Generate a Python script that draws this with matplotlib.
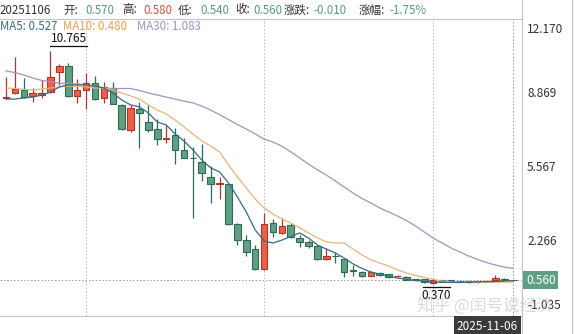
import matplotlib
matplotlib.use("Agg")
import matplotlib.pyplot as plt
from matplotlib.lines import Line2D
import numpy as np

plt.rcParams["font.family"] = ["Noto Sans CJK SC", "DejaVu Sans"]
plt.rcParams["axes.unicode_minus"] = False

# ---------------- data ----------------
OPEN = [8.64, 8.87, 9.01, 8.75, 8.79, 8.91, 9.83, 10.08, 8.76, 9.01,
        9.31, 8.64, 9.10, 8.35, 7.24, 8.17, 7.60, 7.28, 6.82, 7.01,
        6.35, 6.00, 5.83, 5.16, 4.83, 4.82, 3.06, 2.34, 1.94, 1.04,
        3.11, 2.64, 3.01, 2.42, 2.24, 2.08, 1.50, 1.64, 1.49, 0.99,
        0.94, 0.76, 0.89, 0.82, 0.73, 0.71, 0.58, 0.60, 0.45, 0.56,
        0.54, 0.52, 0.51, 0.46, 0.51, 0.55, 0.62, 0.57]
HIGH = [9.59, 10.49, 9.55, 9.10, 9.46, 10.765, 10.17, 10.20, 9.50, 9.77,
        9.64, 9.38, 9.38, 8.40, 8.35, 8.49, 8.35, 7.71, 7.46, 7.32,
        6.87, 6.49, 6.61, 5.63, 5.15, 4.85, 3.10, 2.57, 2.12, 3.53,
        3.28, 3.32, 3.10, 2.57, 2.34, 2.12, 1.99, 1.82, 1.52, 1.23,
        0.98, 0.98, 0.92, 0.85, 0.80, 0.74, 0.60, 0.62, 0.60, 0.58,
        0.56, 0.54, 0.52, 0.54, 0.54, 0.77, 0.64, 0.58]
LOW = [8.60, 8.85, 8.66, 8.49, 8.64, 8.87, 9.24, 8.70, 8.44, 8.17,
       8.57, 8.44, 8.39, 7.24, 7.16, 6.43, 7.16, 6.57, 6.64, 5.72,
       5.98, 3.32, 4.98, 4.00, 4.17, 3.01, 2.12, 1.63, 1.02, 1.02,
       2.49, 2.61, 2.42, 2.05, 1.98, 1.46, 1.45, 1.31, 0.71, 0.74,
       0.72, 0.74, 0.76, 0.67, 0.70, 0.55, 0.55, 0.44, 0.37, 0.52,
       0.51, 0.48, 0.45, 0.44, 0.49, 0.53, 0.55, 0.54]
CLOSE = [8.68, 9.06, 8.72, 8.87, 8.89, 9.60, 10.08, 8.75, 9.01, 9.31,
         8.60, 9.16, 8.39, 7.27, 8.23, 7.99, 7.24, 6.84, 6.86, 6.35,
         5.99, 5.97, 5.34, 4.82, 4.86, 3.06, 2.34, 1.82, 1.04, 3.04,
         2.69, 2.97, 2.46, 2.24, 2.08, 1.49, 1.63, 1.62, 0.90, 0.98,
         0.76, 0.94, 0.79, 0.69, 0.75, 0.57, 0.57, 0.46, 0.57, 0.54,
         0.53, 0.49, 0.47, 0.52, 0.52, 0.67, 0.57, 0.56]

MA5 = [8.61, 8.61, 8.66, 8.70, 8.79, 8.92, 9.15, 9.24, 9.24, 9.24,
       9.19, 9.10, 8.88, 8.57, 8.35, 8.26, 7.99, 7.59, 7.46, 7.06,
       6.75, 6.35, 5.90, 5.55, 5.37, 4.88, 4.26, 3.59, 2.79, 2.30,
       2.21, 2.34, 2.50, 2.66, 2.43, 2.12, 1.94, 1.77, 1.54, 1.28,
       1.08, 0.92, 0.83, 0.74, 0.65, 0.60, 0.54, 0.51, 0.48, 0.46,
       0.46, 0.46, 0.46, 0.48, 0.49, 0.50, 0.52, 0.53]
MA10 = [9.10, 9.08, 9.04, 9.01, 9.06, 9.10, 9.15, 9.19, 9.17, 9.15,
        9.10, 9.10, 9.01, 8.88, 8.75, 8.61, 8.35, 8.12, 7.95, 7.68,
        7.37, 7.06, 6.75, 6.52, 6.26, 5.68, 5.15, 4.66, 4.17, 3.77,
        3.50, 3.28, 3.10, 2.88, 2.66, 2.43, 2.26, 2.21, 2.21, 1.94,
        1.68, 1.46, 1.32, 1.19, 1.01, 0.88, 0.77, 0.68, 0.59, 0.52,
        0.48, 0.46, 0.46, 0.46, 0.46, 0.47, 0.47, 0.48]
MA30 = [9.86, 9.79, 9.68, 9.55, 9.44, 9.37, 9.32, 9.30, 9.28, 9.24,
        9.17, 9.10, 9.08, 9.08, 9.08, 8.99, 8.88, 8.79, 8.70, 8.61,
        8.52, 8.44, 8.30, 8.12, 7.92, 7.70, 7.48, 7.28, 7.06, 6.83,
        6.70, 6.52, 6.26, 5.99, 5.72, 5.46, 5.23, 4.97, 4.70, 4.43,
        4.19, 3.99, 3.77, 3.59, 3.41, 3.21, 2.97, 2.70, 2.43, 2.21,
        1.99, 1.81, 1.63, 1.48, 1.34, 1.23, 1.14, 1.08]

Y_TICKS = [12.170, 8.869, 5.567, 2.266, -1.035]
MONTH_SEP = [9, 29, 48]          # dotted vertical separators (candle index)
LAST_DATE = "2025-11-06"
LAST_PRICE = 0.560

# ---------------- colours ----------------
RED_FACE, RED_EDGE = "#ec5f4a", "#b0352a"
GRN_FACE, GRN_EDGE = "#5f9f83", "#2f6a53"
C_MA5, C_MA10, C_MA30 = "#3a6a86", "#e9b47c", "#a591c4"
TXT = "#333333"
TXT_G, TXT_R = "#5c9a80", "#d65545"

W, H = 575, 334
def fx(px): return px / W
def fy(py): return 1 - py / H

fig = plt.figure(figsize=(W / 100, H / 100), dpi=100)
ax = fig.add_axes([0, fy(316), fx(522), (316 - 19) / H])

o, h, l, c = map(np.array, (OPEN, HIGH, LOW, CLOSE))
x = np.arange(len(o))
up = c >= o

# wicks
ax.vlines(x[up], l[up], h[up], color=RED_EDGE, lw=0.9, zorder=2)
ax.vlines(x[~up], l[~up], h[~up], color=GRN_EDGE, lw=0.9, zorder=2)
# bodies
bottom = np.minimum(o, c)
height = np.maximum(np.abs(c - o), 0.025)
ax.bar(x[up], height[up], bottom=bottom[up], width=0.74,
       color=RED_FACE, edgecolor=RED_EDGE, linewidth=0.8, zorder=3)
ax.bar(x[~up], height[~up], bottom=bottom[~up], width=0.74,
       color=GRN_FACE, edgecolor=GRN_EDGE, linewidth=0.8, zorder=3)

# moving averages
ax.plot(x, MA30, color=C_MA30, lw=0.9, zorder=4)
ax.plot(x, MA10, color=C_MA10, lw=0.9, zorder=4)
ax.plot(x, MA5, color=C_MA5, lw=0.9, zorder=4)

# separators / crosshair
for s in MONTH_SEP:
    ax.axvline(s, color="#b8b8b8", lw=0.7, ls=(0, (1.5, 2)), zorder=1)
ax.axvline(x[-1], color="#9a9a9a", lw=0.7, ls=(0, (1.5, 2)), zorder=1)
ax.axhline(LAST_PRICE, color="#9a9a9a", lw=0.7, ls=(0, (1.5, 2)), zorder=1)

ax.set_xlim(-0.674, 57.98)
ax.set_ylim(Y_TICKS[-1], Y_TICKS[0])
ax.set_xticks([])
ax.set_yticks([])
ax.spines["left"].set_visible(False)
for side in ("top", "right", "bottom"):
    ax.spines[side].set_color("#c4c4c4")
    ax.spines[side].set_linewidth(0.8)

# high / low marks
hi = int(np.argmax(h))
ax.plot([hi, hi + 4.1], [h[hi] + 0.19, h[hi] + 0.19], color="#111111", lw=0.9, zorder=5)
ax.text(hi + 2.05, h[hi] + 0.25, f"{h[hi]:.3f}", ha="center", va="bottom",
        fontsize=8.5, color="#111111", zorder=5)
lo = int(np.argmin(l))
ax.plot([lo - 1.2, lo + 1.9], [l[lo] - 0.13, l[lo] - 0.13], color="#111111", lw=0.9, zorder=5)
ax.text(lo + 0.35, l[lo] - 0.2, f"{l[lo]:.3f}", ha="center", va="top",
        fontsize=8.5, color="#111111", zorder=5)

# right axis labels
tr = ax.get_yaxis_transform()
for i, v in enumerate(Y_TICKS):
    va = "top" if i == 0 else ("bottom" if i == len(Y_TICKS) - 1 else "center")
    yy = v - 0.2 if i == 0 else (v + 0.2 if i == len(Y_TICKS) - 1 else v)
    ax.text(1.0 + 5 / 522, yy, f"{v:.3f}", transform=tr, ha="left", va=va,
            fontsize=8.5, color=TXT, clip_on=False)
ax.text(1.0 + 4 / 522, LAST_PRICE, f"{LAST_PRICE:.3f}", transform=tr, ha="left",
        va="center", fontsize=8.5, color="white", clip_on=False, zorder=6,
        bbox=dict(boxstyle="square,pad=0.22", facecolor="#5f9f83", edgecolor="none"))

# frame lines outside the axes
fig.add_artist(Line2D([fx(522), fx(522)], [fy(0), fy(19)], color="#c4c4c4", lw=0.8))
fig.add_artist(Line2D([fx(522), fx(522)], [fy(316), fy(334)], color="#c4c4c4", lw=0.8))
fig.add_artist(Line2D([fx(572), fx(572)], [0, 1], color="#c4c4c4", lw=0.8))

# date box
fig.text(fx(518), fy(326), LAST_DATE, ha="right", va="center", fontsize=8.5,
         color="white", zorder=7,
         bbox=dict(boxstyle="square,pad=0.28", facecolor="#3b3b3b", edgecolor="none"))

# header line
header = [(0, "20251106", TXT), (63, "开:", TXT), (85, "0.570", TXT_G),
          (122, "高:", TXT), (143, "0.580", TXT_R), (178, "低:", TXT),
          (200, "0.540", TXT_G), (235, "收:", TXT), (253, "0.560", TXT_G),
          (284, "涨跌:", TXT), (313, "-0.010", TXT_G), (359, "涨幅:", TXT),
          (389, "-1.75%", TXT_G)]
for px, s, col in header:
    fig.text(fx(px), fy(10), s, ha="left", va="center", fontsize=8.3, color=col)

ma_hdr = [(0, "MA5: 0.527", C_MA5), (63, "MA10: 0.480", "#e3a052"),
          (137, "MA30: 1.083", C_MA30)]
for px, s, col in ma_hdr:
    fig.text(fx(px), fy(27), s, ha="left", va="center", fontsize=8.3, color=col)

# watermark
fig.text(fx(417), fy(306), "知乎 @闰号说经济", ha="left", va="center", fontsize=12,
         color="#bdbdbd", alpha=0.55, zorder=8)

fig.savefig("out.png", dpi=100, facecolor="white")
